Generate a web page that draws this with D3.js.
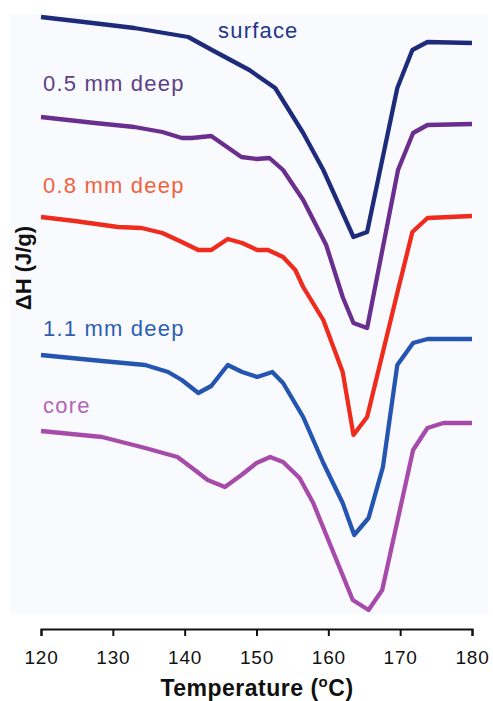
<!DOCTYPE html>
<html>
<head>
<meta charset="utf-8">
<script src="https://cdn.jsdelivr.net/npm/d3@7"></script>
<style>
  html, body { margin: 0; padding: 0; background: #ffffff; }
  svg { display: block; }
  text { font-family: "Liberation Sans", Arial, Helvetica, sans-serif; }
</style>
</head>
<body>
<script>
// DSC heating traces (stacked, arbitrary offset units) for samples taken at increasing depth
const temperatureTicks = [120, 130, 140, 150, 160, 170, 180];

const surfaceT = [120, 126, 133, 140.5, 143.8, 149, 152.6, 156.5, 159.3, 163.5, 165.4, 169.6, 171.7, 173.8, 180];
const surfaceH = [61.2, 60.7, 60.1, 59.2, 57.9, 55.9, 54.1, 49.6, 45.9, 39.2, 39.7, 54.1, 57.9, 58.7, 58.6];

const deep05T = [120, 127.5, 133, 136.9, 139.6, 141, 143.7, 147.9, 150, 151.8, 153.7, 156.5, 159.7, 162, 163.5, 165.4, 169.7, 171.8, 173.8, 180];
const deep05H = [51.2, 50.6, 50.2, 49.7, 49.1, 49.1, 49.3, 47.2, 47.0, 47.1, 45.9, 42.9, 38.4, 33.2, 30.6, 30.1, 45.9, 49.6, 50.4, 50.5];

const deep08T = [120, 124.7, 130.7, 134, 136.9, 139.6, 141.9, 143.7, 146, 148, 150.1, 151.6, 153.7, 155.4, 156.5, 159.3, 162, 163.5, 165.4, 169.7, 171.7, 173.8, 180];
const deep08H = [41.2, 40.8, 40.2, 40.1, 39.6, 38.7, 37.9, 37.9, 39.0, 38.6, 37.9, 37.9, 37.2, 35.9, 34.2, 30.9, 25.7, 19.4, 21.2, 33.9, 39.7, 41.1, 41.3];

const deep11T = [120, 128.5, 134.5, 137.7, 139.6, 141.9, 143.7, 146, 148, 150.1, 152.2, 153.7, 156.5, 159.3, 162, 163.6, 165.6, 167.6, 169.6, 171.8, 173.8, 180];
const deep11H = [27.4, 26.8, 26.4, 25.7, 24.9, 23.6, 24.3, 26.4, 25.7, 25.2, 25.7, 24.6, 21.2, 16.6, 12.6, 9.4, 11.1, 16.2, 26.4, 28.6, 29.0, 29.0];

const coreT = [120, 128.5, 134.5, 139, 141.4, 143.2, 145.6, 147.9, 150, 151.9, 153.7, 156, 157.9, 163.4, 165.6, 167.5, 171.8, 173.8, 176, 180];
const coreH = [19.8, 19.2, 18.1, 17.2, 15.9, 14.9, 14.2, 15.4, 16.6, 17.2, 16.7, 15.1, 12.6, 2.9, 1.9, 3.9, 17.9, 20.1, 20.6, 20.6];

const seriesNames = ["surface", "0.5 mm deep", "0.8 mm deep", "1.1 mm deep", "core"];
const seriesT = [surfaceT, deep05T, deep08T, deep11T, coreT];
const seriesH = [surfaceH, deep05H, deep08H, deep11H, coreH];

// styling
const lineColors  = ["#1d2b7a", "#6a2e8f", "#ee2b1c", "#2455b1", "#a64ba9"];
const labelColors = ["#22378a", "#5d4087", "#f2623f", "#2d5fb4", "#b265b8"];
const labelPos = [[218, 38], [43, 91], [43, 193], [43, 336], [43, 413]];

const W = 493, H = 701;
const svg = d3.select("body").append("svg")
  .attr("width", W).attr("height", H);

// faint panel tint
svg.append("rect").attr("x", 10).attr("y", 14).attr("width", 478).attr("height", 600)
  .attr("fill", "#f9fafd");

const x = d3.scaleLinear().domain([120, 180]).range([41, 472]);
const y = d3.scaleLinear().domain([0, 61.5]).range([629, 14]);

const line = d3.line()
  .x(d => x(d[0]))
  .y(d => y(d[1]));

seriesNames.forEach((name, i) => {
  const pts = seriesT[i].map((t, k) => [t, seriesH[i][k]]);
  svg.append("path")
    .datum(pts)
    .attr("d", line)
    .attr("fill", "none")
    .attr("stroke", lineColors[i])
    .attr("stroke-width", 4.3)
    .attr("stroke-linejoin", "round")
    .attr("stroke-linecap", "butt");

  svg.append("text")
    .attr("x", labelPos[i][0])
    .attr("y", labelPos[i][1])
    .attr("fill", labelColors[i])
    .attr("font-size", 22)
    .attr("letter-spacing", 1.2)
    .text(name);
});

// x axis
const xAxis = d3.axisBottom(x)
  .tickValues(temperatureTicks)
  .tickFormat(d3.format("d"))
  .tickSizeOuter(0)
  .tickSize(7)
  .tickPadding(15);

const gx = svg.append("g")
  .attr("transform", `translate(0,${y(0)})`)
  .call(xAxis);
gx.select(".domain").attr("stroke", "#111").attr("stroke-width", 2);
gx.selectAll(".tick line").attr("stroke", "#111").attr("stroke-width", 2);
gx.selectAll(".tick text")
  .attr("fill", "#111")
  .attr("font-size", 19)
  .attr("letter-spacing", 0.8)
  .style("font-family", "'Liberation Sans', Arial, sans-serif");

// axis titles
const xt = svg.append("text")
  .attr("x", 257).attr("y", 696)
  .attr("text-anchor", "middle")
  .attr("font-size", 23)
  .attr("font-weight", "bold")
  .attr("letter-spacing", 0.5)
  .attr("fill", "#111");
xt.append("tspan").text("Temperature (");
xt.append("tspan").attr("font-size", 15).attr("dy", -9).text("o");
xt.append("tspan").attr("dy", 9).text("C)");

svg.append("text")
  .attr("transform", "translate(31,268) rotate(-90)")
  .attr("text-anchor", "middle")
  .attr("font-size", 22)
  .attr("font-weight", "bold")
  .attr("fill", "#111")
  .text("ΔH (J/g)");
</script>
</body>
</html>
